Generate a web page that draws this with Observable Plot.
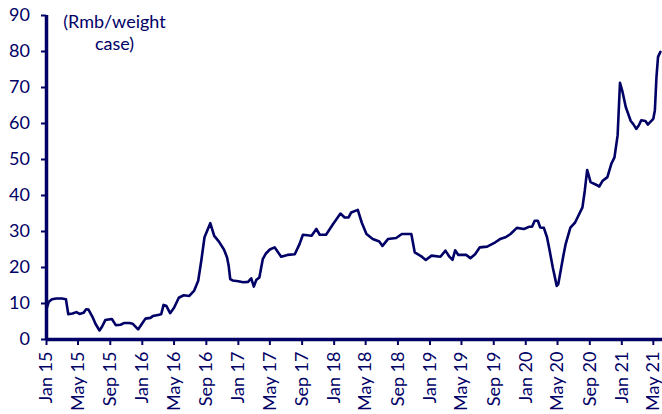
<!DOCTYPE html>
<html>
<head>
<meta charset="utf-8">
<script src="https://cdn.jsdelivr.net/npm/d3@7"></script>
<script src="https://cdn.jsdelivr.net/npm/@observablehq/plot@0.6"></script>
<style>
  html, body { margin: 0; padding: 0; background: #fff; }
  #chart { position: relative; width: 662px; height: 414px; }
  #unit { position: absolute; left: 54px; top: 10px; width: 121px; text-align: center;
          font-family: Lato, sans-serif; font-size: 18px; line-height: 22px; color: #000066; }
</style>
</head>
<body>
<div id="chart"><div id="unit">(Rmb/weight<br>case)</div></div>
<script>
const dates = [
  "2015-01-01","2015-01-10","2015-01-22","2015-02-07","2015-03-01","2015-03-16","2015-03-25","2015-04-10",
  "2015-04-25","2015-05-07","2015-05-22","2015-06-01","2015-06-10","2015-06-25","2015-07-07","2015-07-22",
  "2015-08-01","2015-08-13","2015-09-07","2015-09-22","2015-10-10","2015-10-25","2015-11-13","2015-11-25",
  "2015-12-16","2016-01-01","2016-01-13","2016-02-01","2016-02-10","2016-03-01","2016-03-13","2016-03-22",
  "2016-04-01","2016-04-16","2016-05-01","2016-05-19","2016-06-07","2016-06-28","2016-07-16","2016-08-01",
  "2016-08-13","2016-08-25","2016-09-16","2016-10-01","2016-10-19","2016-11-07","2016-11-19","2016-11-25",
  "2016-12-01","2016-12-10","2017-01-01","2017-01-19","2017-02-07","2017-02-19","2017-03-01","2017-03-10",
  "2017-03-22","2017-04-04","2017-04-16","2017-05-01","2017-05-19","2017-06-13","2017-07-07","2017-08-04",
  "2017-08-22","2017-09-04","2017-10-07","2017-10-25","2017-11-07","2017-12-01","2017-12-28","2018-01-25",
  "2018-02-10","2018-02-25","2018-03-07","2018-04-01","2018-04-16","2018-05-04","2018-05-28","2018-06-22",
  "2018-07-04","2018-07-25","2018-08-25","2018-09-16","2018-10-22","2018-11-04","2018-12-01","2018-12-16",
  "2019-01-07","2019-02-10","2019-03-01","2019-03-16","2019-03-28","2019-04-07","2019-04-19","2019-05-19",
  "2019-06-04","2019-06-22","2019-07-10","2019-08-07","2019-09-07","2019-09-25","2019-10-16","2019-11-04",
  "2019-11-28","2019-12-25","2020-01-13","2020-01-25","2020-02-04","2020-02-16","2020-02-25","2020-03-10",
  "2020-03-22","2020-04-01","2020-04-13","2020-04-28","2020-05-04","2020-05-22","2020-06-01","2020-06-19",
  "2020-07-07","2020-08-04","2020-08-13","2020-08-22","2020-09-04","2020-09-25","2020-10-07","2020-10-19",
  "2020-11-07","2020-11-22","2020-12-04","2020-12-16","2020-12-25","2021-01-04","2021-01-16","2021-02-04",
  "2021-02-13","2021-02-25","2021-03-07","2021-03-16","2021-04-01","2021-04-10","2021-04-19","2021-05-01",
  "2021-05-07","2021-05-13","2021-05-19","2021-05-28"
];
const prices = [
  8.5, 10.5, 11.2, 11.4, 11.4, 11.2, 7.0, 7.2,
  7.6, 7.1, 7.4, 8.4, 8.3, 6.3, 4.3, 2.5,
  3.6, 5.4, 5.7, 4.0, 4.1, 4.6, 4.6, 4.4,
  2.8, 4.5, 5.8, 6.0, 6.5, 6.8, 7.0, 9.6,
  9.4, 7.3, 8.8, 11.6, 12.3, 12.1, 13.5, 16.3,
  22.0, 28.4, 32.3, 28.8, 27.2, 25.0, 22.8, 20.5,
  16.8, 16.4, 16.2, 15.9, 16.0, 17.0, 14.7, 16.5,
  17.2, 22.3, 23.9, 25.0, 25.6, 23.0, 23.5, 23.7,
  26.5, 29.1, 28.8, 30.7, 29.1, 29.1, 32.1, 35.0,
  33.9, 33.9, 35.3, 36.0, 32.5, 29.3, 27.9, 27.2,
  26.0, 27.9, 28.2, 29.3, 29.3, 24.2, 23.0, 22.1,
  23.3, 23.0, 24.7, 23.0, 22.1, 24.8, 23.5, 23.5,
  22.6, 23.7, 25.6, 25.8, 27.0, 27.9, 28.4, 29.3,
  31.0, 30.7, 31.3, 31.3, 33.0, 33.0, 31.1, 31.0,
  28.4, 24.7, 20.0, 14.9, 15.4, 22.8, 26.5, 31.1,
  32.5, 36.7, 41.4, 47.1, 43.7, 43.0, 42.5, 44.0,
  45.1, 48.8, 50.6, 56.7, 71.3, 68.7, 64.6, 60.7,
  59.9, 58.5, 59.5, 60.9, 60.7, 59.7, 60.4, 61.3,
  63.7, 72.9, 78.5, 79.9
];
const yTicks = [0, 10, 20, 30, 40, 50, 60, 70, 80, 90];
const xTickLabels = ["Jan 15","May 15","Sep 15","Jan 16","May 16","Sep 16","Jan 17","May 17","Sep 17","Jan 18",
  "May 18","Sep 18","Jan 19","May 19","Sep 19","Jan 20","May 20","Sep 20","Jan 21","May 21"];
const xStart = "2015-01-01";
const xEnd = "2021-06-05";

const parse = d3.utcParse("%Y-%m-%d");
const data = dates.map((d, i) => ({date: parse(d), value: prices[i]}));
const fmt = d3.utcFormat("%b %y");
const xTicks = d3.utcMonth.every(4).range(parse(xStart), parse(xEnd)).filter(d => xTickLabels.includes(fmt(d)));

const navy = "#000066";
const chart = Plot.plot({
  width: 662,
  height: 414,
  marginLeft: 46,
  marginRight: 0,
  marginTop: 15,
  marginBottom: 75,
  style: {fontFamily: "Lato, sans-serif", color: navy, background: "transparent"},
  x: {type: "utc", domain: [parse(xStart), parse(xEnd)]},
  y: {domain: [0, 90]},
  marks: [
    Plot.axisY({ticks: yTicks, tickSize: 5, tickPadding: 11.5, strokeWidth: 2, fontSize: 18, label: null, stroke: navy, fill: navy}),
    Plot.axisX({ticks: xTicks, tickFormat: fmt, tickRotate: -90, tickSize: 6, tickPadding: 6, strokeWidth: 2, fontSize: 18, label: null, stroke: navy, fill: navy}),
    Plot.ruleX([parse(xStart)], {stroke: navy, strokeWidth: 3.5}),
    Plot.ruleY([0], {stroke: navy, strokeWidth: 3.5}),
    Plot.line(data, {x: "date", y: "value", stroke: navy, strokeWidth: 2.6, strokeLinejoin: "round"})
  ]
});
chart.style.position = "absolute";
chart.style.left = "0px";
chart.style.top = "0px";
document.getElementById("chart").prepend(chart);
</script>
</body>
</html>
